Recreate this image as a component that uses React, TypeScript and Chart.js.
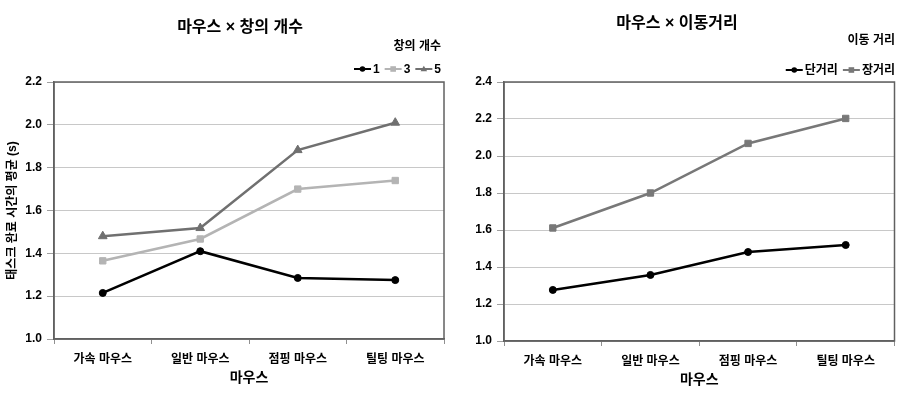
import React, { useEffect, useRef } from 'react';
import { Chart, registerables } from 'chart.js';

Chart.register(...registerables);

const categories = ['가속 마우스', '일반 마우스', '점핑 마우스', '틸팅 마우스'];

// Left chart: 마우스 × 창의 개수
const windowLabels = ['1', '3', '5'];
const win1 = [1.215, 1.41, 1.285, 1.275];
const win3 = [1.365, 1.467, 1.7, 1.74];
const win5 = [1.48, 1.518, 1.882, 2.01];

// Right chart: 마우스 × 이동거리
const distLabels = ['단거리', '장거리'];
const shortDist = [1.276, 1.357, 1.481, 1.519];
const longDist = [1.611, 1.8, 2.068, 2.203];

const leftYMin = 1.0;
const leftYMax = 2.2;
const rightYMin = 1.0;
const rightYMax = 2.4;
const yStep = 0.2;

const FONT = "'Liberation Sans', 'Noto Sans CJK KR', sans-serif";
const GRID = '#c8c8c8';
const BORDER = '#606060';

function drawMarker(ctx: CanvasRenderingContext2D, style: string, x: number, y: number, r: number, color: string) {
  ctx.fillStyle = color;
  ctx.beginPath();
  if (style === 'circle') {
    ctx.arc(x, y, r, 0, Math.PI * 2);
  } else if (style === 'rect') {
    ctx.rect(x - r, y - r, 2 * r, 2 * r);
  } else {
    ctx.moveTo(x, y - r - 0.5);
    ctx.lineTo(x + r + 0.5, y + r - 0.5);
    ctx.lineTo(x - r - 0.5, y + r - 0.5);
    ctx.closePath();
  }
  ctx.fill();
}

type Decor = {
  title: string;
  titleX: number;
  titleY: number;
  legendTitle: string;
  legendRight: number;
  legendTitleY: number;
  legendY: number;
};

function decorPlugin(d: Decor) {
  return {
    id: 'decor',
    afterDraw(chart: any) {
      const ctx: CanvasRenderingContext2D = chart.ctx;
      const a = chart.chartArea;
      ctx.save();
      ctx.strokeStyle = BORDER;
      ctx.lineWidth = 1.5;
      ctx.strokeRect(a.left, a.top, a.right - a.left, a.bottom - a.top);

      ctx.fillStyle = '#000';
      ctx.textBaseline = 'middle';
      ctx.textAlign = 'center';
      ctx.font = `bold 16px ${FONT}`;
      ctx.fillText(d.title, d.titleX, d.titleY);

      ctx.font = `bold 12px ${FONT}`;
      ctx.textAlign = 'right';
      ctx.fillText(d.legendTitle, d.legendRight, d.legendTitleY);

      const lineLen = 17;
      const gapText = 2;
      const gapItem = 5;
      const ds = chart.data.datasets;
      const widths = ds.map((s: any) => lineLen + gapText + ctx.measureText(s.label).width);
      const total = widths.reduce((p: number, c: number) => p + c, 0) + gapItem * (ds.length - 1);
      let x = d.legendRight - total;
      ctx.textAlign = 'left';
      ds.forEach((s: any, i: number) => {
        ctx.strokeStyle = s.borderColor;
        ctx.lineWidth = 2;
        ctx.beginPath();
        ctx.moveTo(x, d.legendY);
        ctx.lineTo(x + lineLen, d.legendY);
        ctx.stroke();
        drawMarker(ctx, s.pointStyle, x + lineLen / 2, d.legendY, 2.8, s.borderColor);
        ctx.fillStyle = '#000';
        ctx.fillText(s.label, x + lineLen + gapText, d.legendY + 0.5);
        x += widths[i] + gapItem;
      });
      ctx.restore();
    },
  };
}

function makeOptions(yMin: number, yMax: number, yTitle: string | null, xAxisHeight: number, xTitlePad: number) {
  return {
    responsive: false,
    animation: false as const,
    layout: { padding: { top: 82, right: 4, left: 0, bottom: 0 } },
    plugins: {
      legend: { display: false },
      title: { display: false },
      tooltip: { enabled: false },
    },
    scales: {
      x: {
        offset: true,
        grid: { offset: true, drawOnChartArea: false, tickLength: 5, tickColor: '#909090', color: '#909090' },
        border: { color: BORDER, width: 1.5 },
        ticks: { font: { family: FONT, size: 12, weight: 'bold' }, color: '#000', padding: 8, maxRotation: 0 },
        title: {
          display: true,
          text: '마우스',
          font: { family: FONT, size: 14, weight: 'bold' },
          color: '#000',
          padding: { top: 0, bottom: xTitlePad },
        },
        afterFit: (s: any) => {
          s.height = xAxisHeight;
        },
      },
      y: {
        min: yMin,
        max: yMax,
        ticks: {
          stepSize: yStep,
          font: { family: FONT, size: 12, weight: 'bold' },
          color: '#000',
          padding: 5,
          callback: (v: any) => Number(v).toFixed(1),
        },
        grid: { color: GRID, lineWidth: 1, tickLength: 7, tickColor: '#a0a0a0' },
        border: { color: BORDER, width: 1.5 },
        title: {
          display: !!yTitle,
          text: yTitle || '',
          font: { family: FONT, size: 12, weight: 'bold' },
          color: '#000',
          padding: { top: 5, bottom: 0 },
        },
        afterFit: (s: any) => {
          s.width = 54;
        },
      },
    },
  };
}

function lineDs(label: string, data: number[], color: string, pointStyle: string, radius: number) {
  return {
    label,
    data,
    borderColor: color,
    backgroundColor: color,
    borderWidth: 2.5,
    pointStyle,
    pointRadius: radius,
    pointBorderWidth: 1,
    pointBorderColor: color,
    pointBackgroundColor: color,
    tension: 0,
  };
}

function LeftChart() {
  const ref = useRef<HTMLCanvasElement>(null);
  useEffect(() => {
    const chart = new Chart(ref.current as HTMLCanvasElement, {
      type: 'line',
      data: {
        labels: categories,
        datasets: [
          lineDs(windowLabels[0], win1, '#000000', 'circle', 3.5),
          lineDs(windowLabels[1], win3, '#b4b4b4', 'rect', 4.5),
          lineDs(windowLabels[2], win5, '#707070', 'triangle', 5),
        ],
      },
      options: makeOptions(leftYMin, leftYMax, '태스크 완료 시간의 평균 (s)', 59, 11) as any,
      plugins: [
        decorPlugin({
          title: '마우스 × 창의 개수',
          titleX: 240,
          titleY: 28,
          legendTitle: '창의 개수',
          legendRight: 441,
          legendTitleY: 47,
          legendY: 69,
        }),
      ],
    });
    return () => chart.destroy();
  }, []);
  return <canvas ref={ref} width={450} height={398} style={{ display: 'block', width: 450, height: 398 }} />;
}

function RightChart() {
  const ref = useRef<HTMLCanvasElement>(null);
  useEffect(() => {
    const chart = new Chart(ref.current as HTMLCanvasElement, {
      type: 'line',
      data: {
        labels: categories,
        datasets: [
          lineDs(distLabels[0], shortDist, '#000000', 'circle', 3.5),
          lineDs(distLabels[1], longDist, '#787878', 'rect', 4.5),
        ],
      },
      options: makeOptions(rightYMin, rightYMax, null, 57, 9) as any,
      plugins: [
        decorPlugin({
          title: '마우스 × 이동거리',
          titleX: 227,
          titleY: 24,
          legendTitle: '이동 거리',
          legendRight: 445,
          legendTitleY: 41,
          legendY: 70,
        }),
      ],
    });
    return () => chart.destroy();
  }, []);
  return <canvas ref={ref} width={450} height={398} style={{ display: 'block', width: 450, height: 398 }} />;
}

export default function App() {
  return (
    <div style={{ position: 'absolute', left: 0, top: 0, width: 900, height: 398, display: 'flex', background: '#fff' }}>
      <LeftChart />
      <RightChart />
    </div>
  );
}
